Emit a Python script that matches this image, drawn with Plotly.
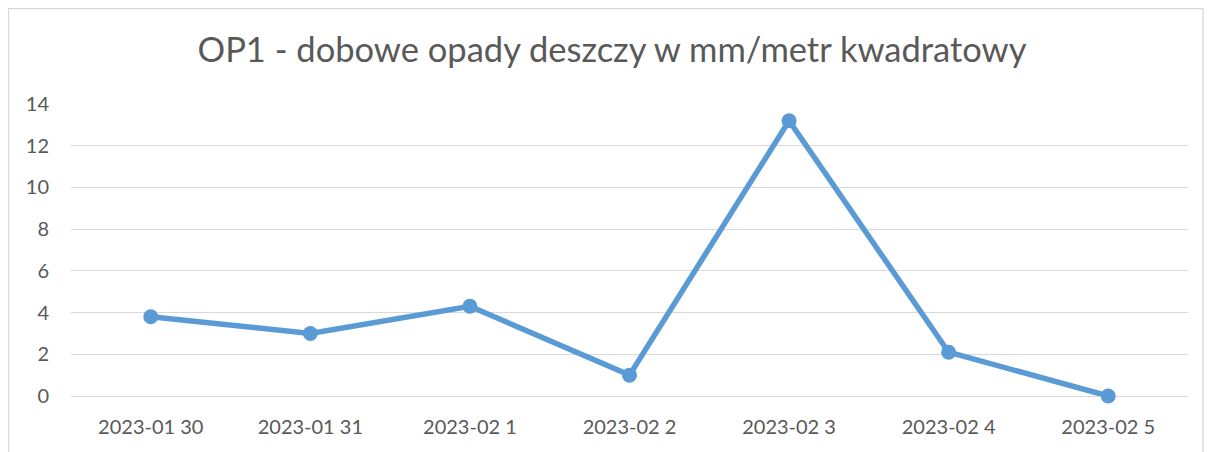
import plotly.graph_objects as go

categories = ["2023-01 30", "2023-01 31", "2023-02 1", "2023-02 2", "2023-02 3", "2023-02 4", "2023-02 5"]
values = [3.8, 3.0, 4.3, 1.0, 13.2, 2.1, 0.0]
y_ticks = [0, 2, 4, 6, 8, 10, 12, 14]
title_text = "OP1 - dobowe opady deszczy w mm/metr kwadratowy"

OFF = 8  # page body margin
W, H = 1213 - OFF, 452 - OFF
L, R, T, B = 71 - OFF, 25, 104 - OFF, 56
pw, ph = W - L - R, H - T - B

def px(x):
    return (x - OFF - L) / pw

def py(y):
    return (H - B - (y - OFF)) / ph

fig = go.Figure()
fig.add_trace(go.Scatter(
    x=categories, y=values, mode="lines+markers",
    line=dict(color="#5B9BD5", width=5.5),
    marker=dict(color="#5B9BD5", size=15),
    cliponaxis=False,
    showlegend=False,
))

fig.update_layout(
    width=W, height=H,
    margin=dict(l=L, r=R, t=T, b=B),
    paper_bgcolor="white", plot_bgcolor="white",
    font=dict(family="Lato", color="#595959", size=20),
    title=dict(text=title_text, x=px(612), xref="paper", xanchor="center",
               y=1 - (50 - OFF) / H, yanchor="middle",
               font=dict(family="Lato", size=34.5, color="#595959")),
    xaxis=dict(type="category", range=[-0.5, 6.5], showgrid=False, showline=False,
               zeroline=False, ticks="", ticklabelstandoff=17,
               tickfont=dict(size=20, color="#595959")),
    yaxis=dict(range=[0, 14], tickvals=y_ticks, showgrid=True, gridcolor="#D9D9D9",
               gridwidth=1.3, zeroline=True, zerolinecolor="#D9D9D9", zerolinewidth=1.3,
               showline=False, ticks="", ticklabelstandoff=21,
               tickfont=dict(size=20, color="#595959")),
    shapes=[dict(type="rect", xref="paper", yref="paper",
                 x0=px(8.5), x1=px(1203), y0=py(470), y1=py(8.5),
                 line=dict(color="#D9D9D9", width=1.3), fillcolor="rgba(0,0,0,0)",
                 layer="below")],
)

fig.write_html("out.html")
